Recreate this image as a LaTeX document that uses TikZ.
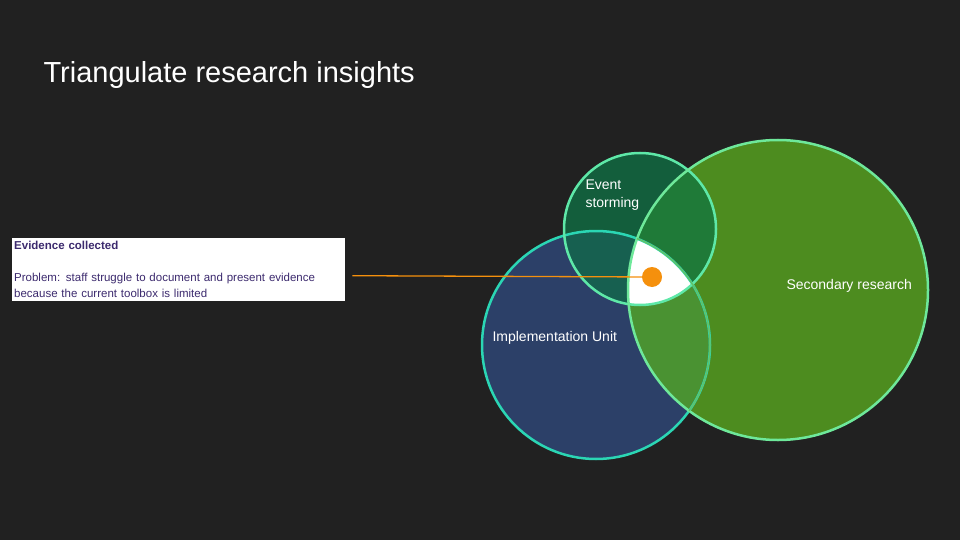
\documentclass[tikz,border=0pt]{standalone}
\usepackage{fontspec}
\setmainfont{Liberation Sans}
\definecolor{bg}{HTML}{212121}
\definecolor{unitfill}{HTML}{2C4068}
\definecolor{unitline}{HTML}{2BD6B4}
\definecolor{eventfill}{HTML}{135E3C}
\definecolor{eventline}{HTML}{5EE8A8}
\definecolor{secfill}{HTML}{4D8C1F}
\definecolor{secline}{HTML}{6EE89A}
\definecolor{evunit}{HTML}{176050}
\definecolor{evsec}{HTML}{1F7A38}
\definecolor{unitsec}{HTML}{4A9232}
\definecolor{ink}{HTML}{3C2A6E}
\definecolor{dotorange}{HTML}{F5900D}
\begin{document}
\begin{tikzpicture}[x=1pt,y=-1pt,
    label/.style={text=white,font=\fontsize{14}{18}\selectfont,align=left},
    rim/.style={line width=2.5pt}]
  \fill [bg] (0,0) rectangle (960,540);
  \useasboundingbox (0,0) rectangle (960,540);

  \node [anchor=west, text=white, font=\fontsize{29}{34}\selectfont] (title) at (40,75) {Triangulate research insights};

  % circles
  \def\unitc{(596,345) circle (114)}
  \def\eventc{(640,229) circle (76)}
  \def\secc{(778,290) circle (150)}
  \fill [unitfill] \unitc;
  \fill [eventfill] \eventc;
  \begin{scope} \clip \unitc; \fill [evunit] \eventc; \end{scope}
  \fill [secfill] \secc;
  \begin{scope} \clip \secc; \fill [evsec] \eventc; \fill [unitsec] \unitc; \end{scope}
  \begin{scope} \clip \secc; \clip \eventc; \fill [white] \unitc; \end{scope}
  \draw [rim, unitline] \unitc;
  \draw [rim, eventline] \eventc;
  \draw [rim, secline] \secc;
  \begin{scope} \clip \secc; \draw [line width=1.5pt, secline!60!secfill] \unitc; \end{scope}

  \node [label, anchor=north west] (event) at (582,176) {Event\\storming};
  \node [label, anchor=west] (secondary) at (783,286) {Secondary research};
  \node [label, anchor=west] (unit) at (489,338) {Implementation Unit};

  % evidence box
  \node [fill=white, text=ink, anchor=north west, minimum width=333pt, minimum height=63pt,
    inner sep=2pt, align=left, text width=329pt, font=\fontsize{11.5}{16}\selectfont]
    (box) at (12,238) {\textbf{Evidence collected}\\[16pt]Problem: staff struggle to document and present evidence\\because the current toolbox is limited};
  \node [circle, fill=dotorange, minimum size=20pt, inner sep=0pt] (dot) at (652,277) {};
  \draw [dotorange, line width=1.3pt] (box.east) ++(7,6) coordinate (start) -- (dot);
\end{tikzpicture}
\end{document}
